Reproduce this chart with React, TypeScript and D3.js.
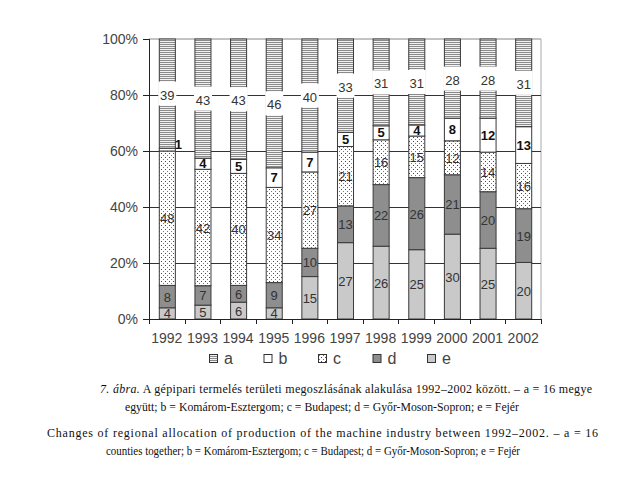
import React from "react";
import * as d3 from "d3";

const years = ["1992","1993","1994","1995","1996","1997","1998","1999","2000","2001","2002"];
const seriesA = [39,43,43,46,40,33,31,31,28,28,31];
const seriesB = [1,4,5,7,7,5,5,4,8,12,13];
const seriesC = [48,42,40,34,27,21,16,15,12,14,16];
const seriesD = [8,7,6,9,10,13,22,26,21,20,19];
const seriesE = [4,5,6,4,15,27,26,25,30,25,20];
const keys = ["e","d","c","b","a"];
const legendKeys = ["a","b","c","d","e"];
const yTicks = [0,0.2,0.4,0.6,0.8,1];
const captionHu1 = "7. ábra. A gépipari termelés területi megoszlásának alakulása 1992–2002 között. – a = 16 megye";
const captionHu2 = "együtt; b = Komárom-Esztergom; c = Budapest; d = Győr-Moson-Sopron; e = Fejér";
const captionEn1 = "Changes of regional allocation of production of the machine industry between 1992–2002. – a = 16";
const captionEn2 = "counties together; b = Komárom-Esztergom; c = Budapest; d = Győr-Moson-Sopron; e = Fejér";

const fills: Record<string,string> = { a: "url(#patA)", b: "#ffffff", c: "url(#patC)", d: "#8e8e8e", e: "#c9c9c9" };

export default function App() {
  const W = 624, H = 482;
  const left = 149, right = 541, top = 39, bottom = 319;
  const rows = years.map((y, i) => ({ year: y, a: seriesA[i], b: seriesB[i], c: seriesC[i], d: seriesD[i], e: seriesE[i] }));
  const stack = d3.stack<any>().keys(keys).offset(d3.stackOffsetExpand);
  const layers = stack(rows);
  const x = d3.scaleBand<string>().domain(years).range([left, right]).paddingInner(0.55).paddingOuter(0.275);
  const y = d3.scaleLinear().domain([0, 1]).range([bottom, top]);
  const bw = x.bandwidth();
  const step = x.step();
  const font = "Liberation Sans, Arial, sans-serif";
  const serif = "Liberation Serif, Times New Roman, serif";
  const legendX = d3.scalePoint<string>().domain(legendKeys).range([209, 427]);

  return (
    <svg width={W} height={H} style={{ position: "absolute", left: 0, top: 0, background: "#fff" }}>
      <defs>
        <pattern id="patA" width="4" height="2" patternUnits="userSpaceOnUse">
          <rect width="4" height="2" fill="#f2f2f2" />
          <rect width="4" height="1" fill="#8a8a8a" />
        </pattern>
        <pattern id="patC" width="4" height="4" patternUnits="userSpaceOnUse">
          <rect width="4" height="4" fill="#ffffff" />
          <rect x="1" y="1" width="1" height="1" fill="#444" />
          <rect x="3" y="3" width="1" height="1" fill="#777" />
        </pattern>
      </defs>
      <rect width={W} height={H} fill="#fff" />
      <line x1={left} x2={right} y1={top} y2={top} stroke="#888" strokeWidth={1} />
      <line x1={right} x2={right} y1={top} y2={bottom} stroke="#aaa" strokeWidth={1} />
      {yTicks.filter(t => t > 0 && t < 1).map(t => (
        <line key={t} x1={left} x2={right} y1={Math.round(y(t)) + 0.5} y2={Math.round(y(t)) + 0.5} stroke="#333" strokeWidth={1} />
      ))}
      {layers.map(layer => (
        <g key={layer.key}>
          {layer.map((s, i) => {
            const y0 = y(s[1]), y1 = y(s[0]);
            return (
              <rect key={i} x={(x(years[i]) as number) + 0.5} y={y0} width={bw} height={y1 - y0}
                fill={fills[layer.key]} stroke="#3a3a3a" strokeWidth={1} />
            );
          })}
        </g>
      ))}
      {layers.map(layer => (
        <g key={"l" + layer.key}>
          {layer.map((s, i) => {
            const raw = (rows[i] as any)[layer.key];
            const cx = (x(years[i]) as number) + bw / 2 + 0.5;
            const cy = (y(s[0]) + y(s[1])) / 2;
            if (layer.key === "a") {
              return (
                <g key={i}>
                  <rect x={cx - bw / 2 - 1} y={cy - 12} width={bw + 2} height={24} fill="#fff" />
                  <text x={cx} y={cy + 6} textAnchor="middle" fontSize={13} fontFamily={font} fill="#333">{raw}</text>
                </g>
              );
            }
            if (layer.key === "b") {
              const h = y(s[0]) - y(s[1]);
              if (h < 8) {
                return <text key={i} x={cx + bw / 2 + 3} y={y(s[1]) + 1} textAnchor="middle" fontSize={13} fontWeight="bold" fontFamily={font} fill="#111">{raw}</text>;
              }
              return <text key={i} x={cx} y={cy + 4.5} textAnchor="middle" fontSize={13} fontWeight="bold" fontFamily={font} fill="#111">{raw}</text>;
            }
            return <text key={i} x={cx} y={cy + 5} textAnchor="middle" fontSize={13} fontFamily={font} fill="#333">{raw}</text>;
          })}
        </g>
      ))}
      <line x1={left + 0.5} x2={left + 0.5} y1={top} y2={bottom} stroke="#222" />
      {yTicks.map(t => (
        <g key={"yt" + t}>
          <line x1={left - 6} x2={left} y1={Math.round(y(t)) + 0.5} y2={Math.round(y(t)) + 0.5} stroke="#222" />
          <text x={138} y={y(t) + 5} textAnchor="end" fontSize={14} fontFamily={font} fill="#444">{d3.format(".0%")(t)}</text>
        </g>
      ))}
      <line x1={left} x2={right} y1={bottom + 0.5} y2={bottom + 0.5} stroke="#222" />
      {years.map((yr, i) => (
        <line key={"xt" + yr} x1={Math.round(left + i * step) + 0.5} x2={Math.round(left + i * step) + 0.5} y1={bottom} y2={bottom + 5} stroke="#222" />
      ))}
      <line x1={right + 0.5} x2={right + 0.5} y1={bottom} y2={bottom + 5} stroke="#222" />
      {years.map(yr => (
        <text key={"xl" + yr} x={(x(yr) as number) + bw / 2} y={343} textAnchor="middle" fontSize={14} fontFamily={font} fill="#444">{yr}</text>
      ))}
      {legendKeys.map(k => (
        <g key={"lg" + k}>
          <rect x={legendX(k) as number + 0.5} y={354.5} width={8} height={8} fill={fills[k]} stroke="#333" />
          <text x={(legendX(k) as number) + 15} y={364} fontSize={16} fontFamily={font} fill="#444">{k}</text>
        </g>
      ))}
      <text x={100} y={393} fontSize={12} fontFamily={serif} fill="#111" textLength={492} lengthAdjust="spacing">
        <tspan fontStyle="italic">7. ábra.</tspan>{captionHu1.slice(8)}
      </text>
      <text x={125} y={411} fontSize={12} fontFamily={serif} fill="#111" textLength={394} lengthAdjust="spacingAndGlyphs">{captionHu2}</text>
      <text x={47} y={437} fontSize={12} fontFamily={serif} fill="#111" textLength={551} lengthAdjust="spacing">{captionEn1}</text>
      <text x={106} y={455} fontSize={12} fontFamily={serif} fill="#111" textLength={414} lengthAdjust="spacingAndGlyphs">{captionEn2}</text>
    </svg>
  );
}
